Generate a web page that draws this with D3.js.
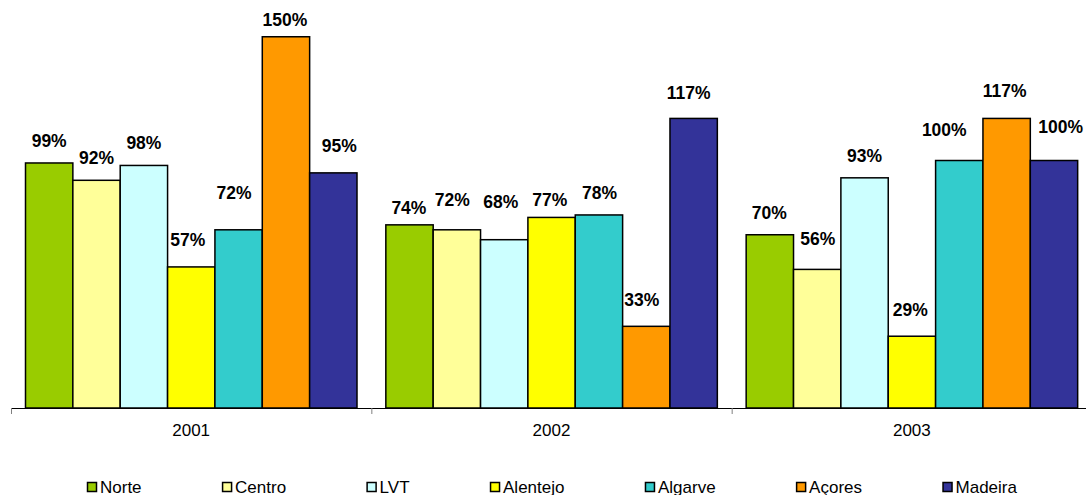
<!DOCTYPE html>
<html>
<head>
<meta charset="utf-8">
<script src="https://cdn.jsdelivr.net/npm/d3@7"></script>
<style>
  html, body { margin: 0; padding: 0; background: #ffffff; }
  svg { display: block; font-family: Arial, "Liberation Sans", sans-serif; }
</style>
</head>
<body>
<svg id="chart" width="1086" height="495"></svg>
<script>
// Years on the category axis
const years = ["2001", "2002", "2003"];

// Regions (one bar per region in each year)
const regions = ["Norte", "Centro", "LVT", "Alentejo", "Algarve", "Açores", "Madeira"];

// Values in percent, one array per region, ordered by year
const norte    = [99, 74, 70];
const centro   = [92, 72, 56];
const lvt      = [98, 68, 93];
const alentejo = [57, 77, 29];
const algarve  = [72, 78, 100];
const acores   = [150, 33, 117];
const madeira  = [95, 117, 100];

const regionColors = ["#99CC00", "#FFFF99", "#CCFFFF", "#FFFF00", "#33CCCC", "#FF9900", "#333399"];

// Small hand-placed nudges for the value labels, [dx, dy] from the bar's top centre
const labelNudge = [
  [[0, -16], [-0.6, -10.5], [-0.5, -15.5]],
  [[0, -16], [-4.5, -24], [0.5, -24.5]],
  [[0, -16.5], [-3.5, -31.5], [0, -15.5]],
  [[-3.5, -21], [-1.7, -11.5], [-1.6, -20]],
  [[-4.5, -31], [0.5, -15.5], [-15, -25]],
  [[-1, -11], [-4.5, -20.5], [-2, -21]],
  [[6, -21], [-5, -19], [6.6, -28]]
];

const seriesValues = [norte, centro, lvt, alentejo, algarve, acores, madeira];

const rows = [];
years.forEach((yr, yi) => {
  regions.forEach((rg, ri) => {
    rows.push({ year: yr, region: rg, value: seriesValues[ri][yi], ri, yi });
  });
});

const svg = d3.select("#chart");

const baseY = 408;
const y = d3.scaleLinear().domain([0, 160]).range([baseY, 12]);

const x0 = d3.scaleBand().domain(years).range([11, 1092]).padding(0);
const x1 = d3.scaleBand().domain(regions).range([14.5, 346]).padding(0);

// Category axis
const xAxis = d3.axisBottom(x0).tickSize(0).tickFormat(d => d);
const axisG = svg.append("g").attr("transform", `translate(0,${baseY})`).call(xAxis);
axisG.select(".domain").attr("stroke", "#000").attr("stroke-width", 1)
  .attr("d", `M11,0.5H1092`);
axisG.selectAll(".tick text")
  .attr("font-size", "17px")
  .attr("font-family", "Arial, 'Liberation Sans', sans-serif")
  .attr("fill", "#000")
  .attr("dy", 0)
  .attr("y", 27.5);

// Tick marks at the boundaries between years
const boundaries = years.map(d => x0(d)).concat([x0(years[years.length - 1]) + x0.step()]);
svg.append("g").selectAll("line").data(boundaries).join("line")
  .attr("x1", d => d + 0.5).attr("x2", d => d + 0.5)
  .attr("y1", baseY).attr("y2", baseY + 6)
  .attr("stroke", "#808080").attr("stroke-width", 1);

// Bars
const bars = svg.append("g");
bars.selectAll("rect").data(rows).join("rect")
  .attr("x", d => x0(d.year) + x1(d.region))
  .attr("y", d => y(d.value))
  .attr("width", x1.bandwidth())
  .attr("height", d => baseY - y(d.value))
  .attr("fill", d => regionColors[d.ri])
  .attr("stroke", "#000")
  .attr("stroke-width", 1.5);

// Value labels
svg.append("g").selectAll("text").data(rows).join("text")
  .attr("x", d => x0(d.year) + x1(d.region) + x1.bandwidth() / 2 + labelNudge[d.ri][d.yi][0])
  .attr("y", d => y(d.value) + labelNudge[d.ri][d.yi][1])
  .attr("text-anchor", "middle")
  .attr("font-size", "17.5px")
  .attr("font-weight", "bold")
  .attr("fill", "#000")
  .text(d => d.value + "%");

// Legend
const legend = svg.append("g");
let lx = 87.5;
regions.forEach((rg, i) => {
  legend.append("rect")
    .attr("x", lx).attr("y", 482.5)
    .attr("width", 9).attr("height", 9)
    .attr("fill", regionColors[i])
    .attr("stroke", "#000").attr("stroke-width", 1.5);
  const t = legend.append("text")
    .attr("x", lx + 12.5).attr("y", 492.5)
    .attr("font-size", "17px")
    .attr("fill", "#000")
    .text(rg);
  lx = lx + 12.5 + t.node().getComputedTextLength() + 81;
});
</script>
</body>
</html>
